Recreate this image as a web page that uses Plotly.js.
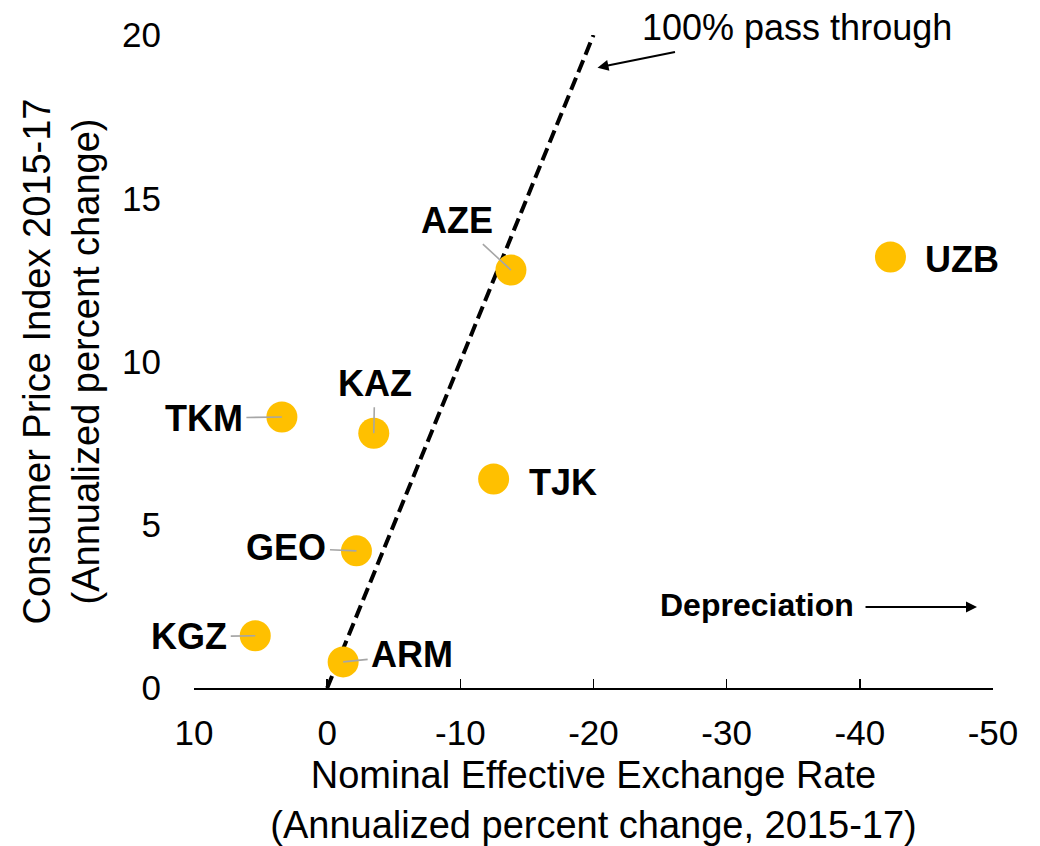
<!DOCTYPE html>
<html>
<head>
<meta charset="utf-8">
<script src="https://cdn.plot.ly/plotly-3.0.1.min.js"></script>
<style>html,body{margin:0;padding:0;background:#fff;}#chart{width:1040px;height:846px;}</style>
</head>
<body>
<div id="chart"></div>
<script>
// Data
const countries = ["UZB", "AZE", "TKM", "KAZ", "TJK", "GEO", "KGZ", "ARM"];
const neer = [-42.3, -13.8, 3.4, -3.5, -12.5, -2.2, 5.4, -1.2];
const cpi = [13.2, 12.8, 8.3, 7.8, 6.4, 4.2, 1.6, 0.8];
const passX = [0, -20];
const passY = [0, 20];
const xTicks = [10, 0, -10, -20, -30, -40, -50];
const yTicks = [0, 5, 10, 15, 20];

// label placement (pixel offsets) and whether a leader line is drawn
const labelOffsets = {
  UZB: {ax: 72, ay: 2, leader: false},
  AZE: {ax: -54, ay: -50, leader: true},
  TKM: {ax: -78, ay: 1, leader: true},
  KAZ: {ax: 1, ay: -50, leader: true},
  TJK: {ax: 69, ay: 3, leader: false},
  GEO: {ax: -70, ay: -3, leader: true},
  KGZ: {ax: -66, ay: 1, leader: true},
  ARM: {ax: 69, ay: -7, leader: true}
};

const FONT = "Liberation Sans, Arial, sans-serif";

const traces = [
  {
    x: passX, y: passY, type: "scatter", mode: "lines",
    line: {color: "#000000", width: 4, dash: "13px,6px"},
    hoverinfo: "skip", showlegend: false, cliponaxis: false
  },
  {
    x: neer, y: cpi, type: "scatter", mode: "markers",
    marker: {color: "#FFC000", size: 31, line: {width: 0}},
    text: countries, showlegend: false, cliponaxis: false
  }
];

const annotations = countries.map((c, i) => {
  const o = labelOffsets[c];
  return {
    x: neer[i], y: cpi[i], xref: "x", yref: "y",
    text: "<b>" + c + "</b>",
    showarrow: true, arrowhead: 0, arrowwidth: 1.6,
    arrowcolor: o.leader ? "#A6A6A6" : "rgba(0,0,0,0)",
    ax: o.ax, ay: o.ay, standoff: 0, borderpad: 3,
    font: {family: FONT, size: 36, color: "#000000"}
  };
});

annotations.push(
  {
    x: 0.755, y: 1.012, xref: "paper", yref: "paper", xanchor: "center", yanchor: "middle",
    text: "100% pass through", showarrow: false,
    font: {family: FONT, size: 36, color: "#000000"}
  },
  {
    x: -20.3, y: 19.0, xref: "x", yref: "y", text: "",
    showarrow: true, arrowhead: 2, arrowsize: 1.1, arrowwidth: 2,
    arrowcolor: "#000000", ax: 79, ay: -16, standoff: 0
  },
  {
    x: -32.3, y: 2.54, xref: "x", yref: "y",
    text: "<b>Depreciation</b>", showarrow: false,
    font: {family: FONT, size: 32, color: "#000000"}
  },
  {
    x: -48.8, y: 2.48, xref: "x", yref: "y", text: "",
    showarrow: true, arrowhead: 2, arrowsize: 1.1, arrowwidth: 2,
    arrowcolor: "#000000", ax: -113, ay: 0, standoff: 0
  }
);

const layout = {
  width: 1040, height: 846,
  margin: {l: 194, r: 47, t: 35, b: 158, pad: 0},
  paper_bgcolor: "#ffffff", plot_bgcolor: "#ffffff",
  font: {family: FONT, color: "#000000"},
  showlegend: false,
  xaxis: {
    range: [10, -50], tickvals: xTicks, ticktext: xTicks.map(String),
    showgrid: false, zeroline: false,
    showline: true, linecolor: "#000000", linewidth: 1.5,
    ticks: "inside", ticklen: 9, tickwidth: 1.5, tickcolor: "#000000",
    tickfont: {family: FONT, size: 35, color: "#000000"},
    ticklabelstandoff: 13,
    title: {
      text: "Nominal Effective Exchange Rate<br>(Annualized percent change, 2015-17)",
      font: {family: FONT, size: 38, color: "#000000"}, standoff: 11
    }
  },
  yaxis: {
    range: [0, 20], tickvals: yTicks, ticktext: yTicks.map(String),
    showgrid: false, zeroline: false, showline: false, ticks: "",
    tickfont: {family: FONT, size: 35, color: "#000000"},
    ticklabelstandoff: 32,
    title: {
      text: "Consumer Price Index 2015-17<br>(Annualized percent change)",
      font: {family: FONT, size: 38, color: "#000000"}, standoff: 10
    }
  },
  annotations: annotations
};

Plotly.newPlot("chart", traces, layout, {displayModeBar: false, staticPlot: true});
</script>
</body>
</html>
